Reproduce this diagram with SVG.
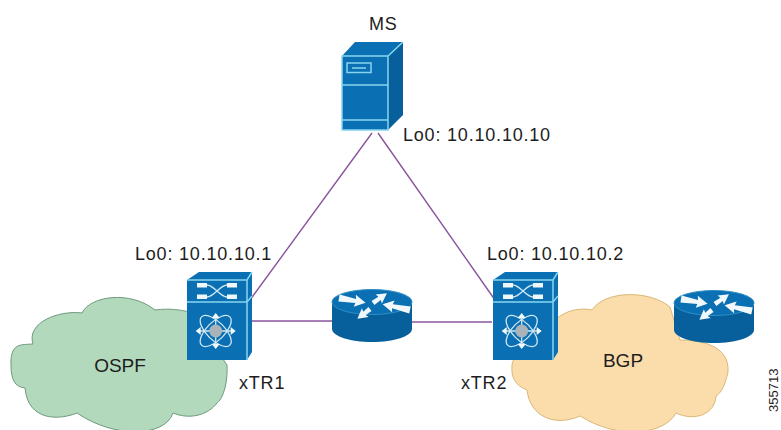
<svg xmlns="http://www.w3.org/2000/svg" width="781" height="430" viewBox="0 0 781 430">
<defs>
<style>
text{font-family:"Liberation Sans",Arial,sans-serif;font-size:18px;fill:#1d1d1d}
.t{letter-spacing:.8px}
.b{fill:#0a6fb3}.d{fill:#07609c}.l{fill:none;stroke:#86d6f0;stroke-width:1.5}
.w{fill:#f0f8fb}.a{fill:none;stroke:#cfe9f4;stroke-width:1.3}
.c{fill:none;stroke:#8a549e;stroke-width:1.4}
</style>
<g id="sw">
<path class="b" d="M0 8L12 0H65V80L60 88H0Z"/>
<path class="l" d="M0 8H60L65 0M60 8V88M0 30H60L65 24"/>
<path class="w" d="M10 11h10v4.500H10zM40 11h10v4.500H40zM10 22.500h10v4.500H10zM40 22.500h10v4.500H40z"/>
<path class="a" d="M20 13C27 13 33 25 40 25M20 25C27 25 33 13 40 13"/>
<g transform="translate(28.700,59)">
<ellipse class="a" rx="20" ry="9" transform="rotate(45)"/>
<ellipse class="a" rx="20" ry="9" transform="rotate(-45)"/>
<path class="a" d="M-18 0H18M0 -17V17"/>
<path class="w" d="M-20 0l5 -4v8zM20 0l-5 -4v8zM0 -18l-4 5h8zM0 18l-4 -5h8z"/>
<circle r="6.500" fill="#a9b4ba"/>
</g>
</g>
<g id="rt">
<path class="d" d="M-40 0V27C-40 34 -22 40 0 40S40 34 40 27V0Z"/>
<ellipse class="b" rx="40" ry="12.500" stroke="#2f8fc4" stroke-width="1"/>
<g class="w">
<path transform="translate(-33,-4) rotate(10)" d="M0 -3.500L17 -2L16 -6L27 0L16 6L17 2L0 3.500Z"/>
<path transform="translate(1,1) rotate(-35)" d="M0 -2.500L8 -2L7 -5.500L17 0L7 5.500L8 2L0 2.500Z"/>
<path transform="translate(38,8) rotate(192)" d="M0 -3.500L18 -2L17 -6L28 0L17 6L18 2L0 3.500Z"/>
<path transform="translate(-2,7) rotate(142)" d="M0 -2.500L7 -2L6 -5.500L16 0L6 5.500L7 2L0 2.500Z"/>
</g>
</g>
</defs>
<g id="connectors">
<path class="c" d="M250 300L372 133M495 300L378 133M247 321H332M412 322H492"/>
</g>
<g id="cloud-ospf">
<path d="M11 365C10 342 22 345 33 344C26 322 60 310 82 313C90 296 130 290 155 310C170 308 180 310 190 312L227 365C228 385 222 400 217 403C208 415 190 420 173 413C165 437 115 439 77 413C60 420 28 422 25 388C15 387 11 380 11 365Z" fill="#b3d9bd" stroke="#6f9a7d" stroke-width="1"/>
<text x="120" y="372" text-anchor="middle" style="font-size:19px">OSPF</text>
</g>
<g id="cloud-bgp">
<path d="M512 365C515 350 525 346 540 345C545 320 570 305 592 310C605 290 650 290 670 307L680 340C700 340 730 345 728 372C725 385 722 392 716 396C715 414 695 422 676 413C665 434 620 441 580 416C555 427 530 417 527 390C515 385 511 378 512 365Z" fill="#fbdcab" stroke="#d9b878" stroke-width="1"/>
<text x="623" y="367" text-anchor="middle" style="font-size:19px">BGP</text>
</g>
<g id="server-ms">
<path class="d" d="M388 56L403 42V115L388 130Z"/>
<path class="b" d="M342 56L355 42H403L388 56V130H342Z"/>
<path class="l" d="M342 56H388V130H342ZM342 85H388M342 120H388M388 56L403 42"/>
<rect class="l" x="347" y="63" width="24" height="9.500"/>
<path class="l" d="M352 68H366"/>
<text class="t" x="369" y="30">MS</text>
<text class="t" x="403" y="141">Lo0: 10.10.10.10</text>
</g>
<g id="switch-xtr1">
<use href="#sw" transform="translate(187,272)"/>
<text class="t" x="135" y="260">Lo0: 10.10.10.1</text>
<text class="t" x="239" y="389">xTR1</text>
</g>
<g id="switch-xtr2">
<use href="#sw" transform="translate(493,272)"/>
<text class="t" x="487" y="260">Lo0: 10.10.10.2</text>
<text class="t" x="461" y="389">xTR2</text>
</g>
<g id="router-mid"><use href="#rt" transform="translate(372,302)"/></g>
<g id="router-bgp"><use href="#rt" transform="translate(714,303)"/></g>
<text x="778" y="412" transform="rotate(-90 778 412)" style="font-size:13px">355713</text>
</svg>
